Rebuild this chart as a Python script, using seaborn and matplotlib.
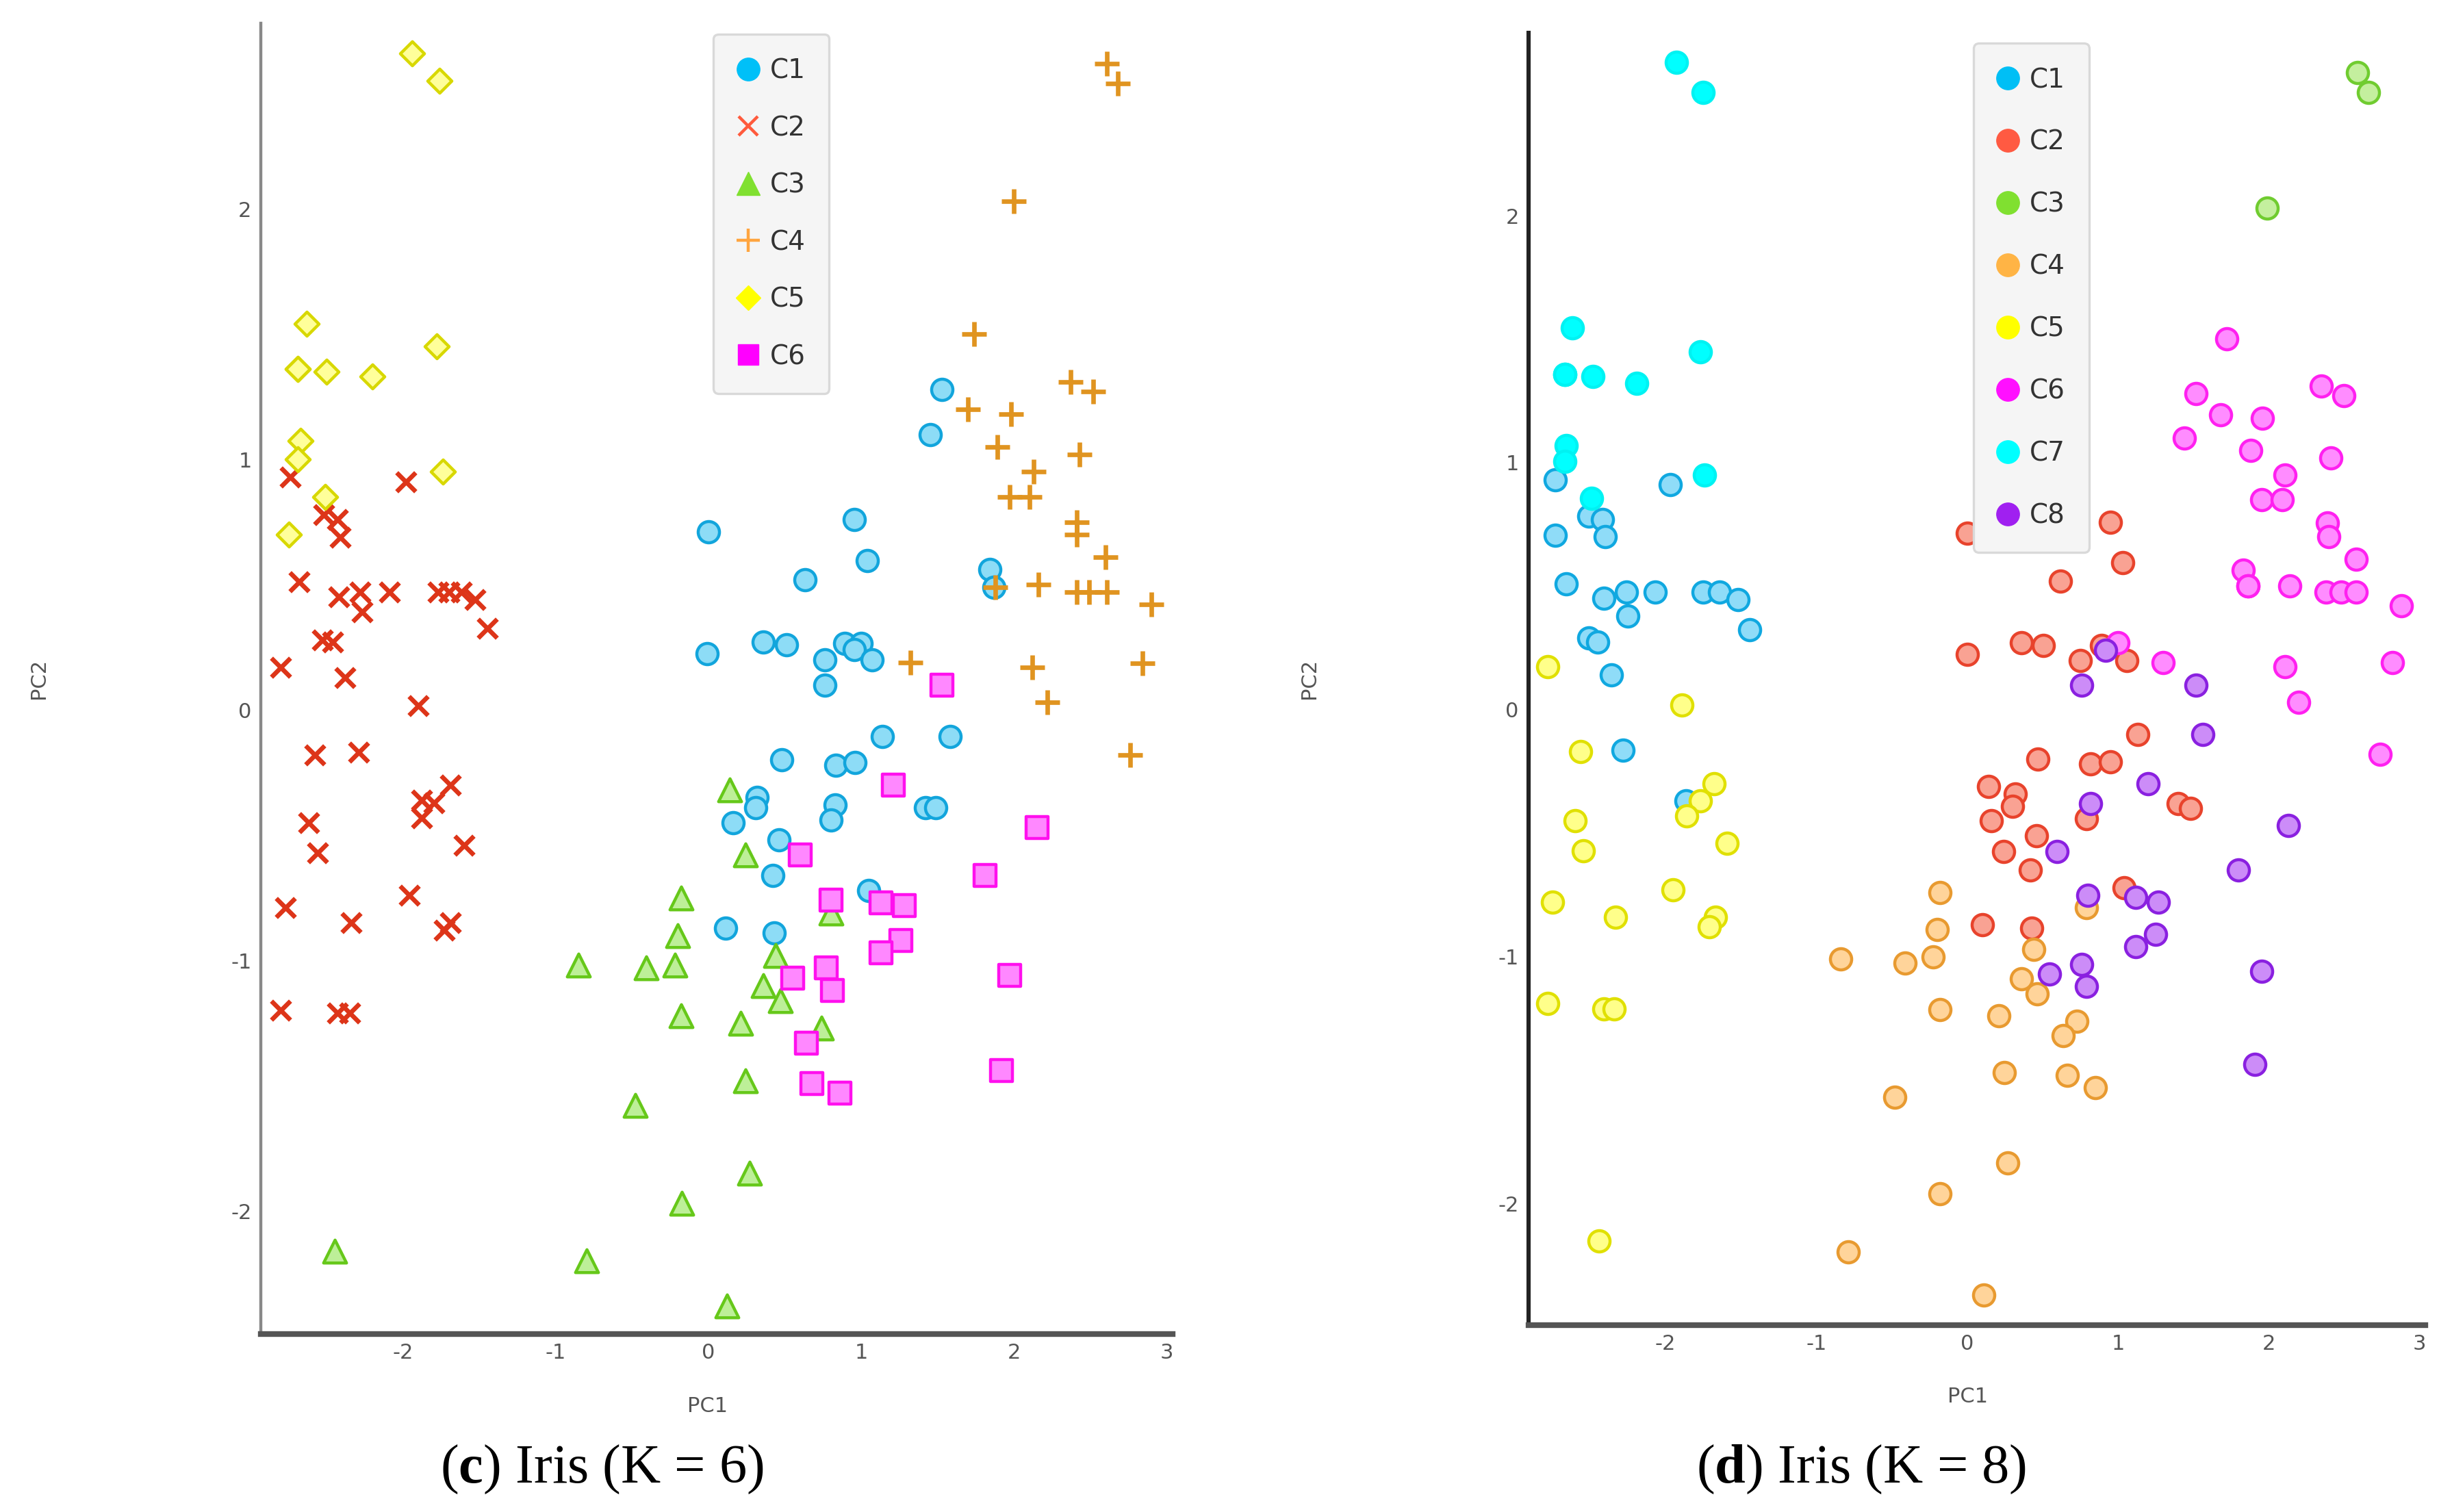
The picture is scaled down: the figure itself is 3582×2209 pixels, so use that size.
"""
Iris PCA scatter, K-means style clusters for K = 6 and K = 8.
Two panels side by side, with figure captions (c) and (d).
"""

import warnings
import pandas as pd
import matplotlib
matplotlib.use("Agg")
import matplotlib.pyplot as plt
from matplotlib.lines import Line2D
import seaborn as sns

warnings.filterwarnings("ignore")

# ---------------------------------------------------------------------------
# 1. DATA
# ---------------------------------------------------------------------------
CLUSTERS_K6 = ["C1", "C2", "C3", "C4", "C5", "C6"]
CLUSTERS_K8 = ["C1", "C2", "C3", "C4", "C5", "C6", "C7", "C8"]
X_TICKS = [-2, -1, 0, 1, 2, 3]
Y_TICKS = [-2, -1, 0, 1, 2]

# K = 6
k6_c1_pc1 = [1.53, 1.45, 0.00, 0.955, 1.04, 0.63, 1.84, 1.87, -0.01, 0.36, 0.51, 0.76,
             0.89, 1.00, 0.955, 1.07, 0.76, 1.14, 1.58, 0.48, 0.835, 0.96, 0.32, 0.31,
             0.16, 0.83, 0.80, 1.42, 1.49, 0.46, 0.42, 1.05, 0.11, 0.43]
k6_c1_pc2 = [1.28, 1.10, 0.71, 0.76, 0.595, 0.52, 0.56, 0.49, 0.225, 0.27, 0.26, 0.20,
             0.265, 0.265, 0.24, 0.20, 0.10, -0.105, -0.105, -0.20, -0.22, -0.21, -0.35, -0.39,
             -0.45, -0.38, -0.44, -0.39, -0.39, -0.52, -0.66, -0.72, -0.87, -0.89]

k6_c2_pc1 = [-2.74, -1.98, -2.52, -2.43, -2.41, -2.68, -2.42, -2.28, -2.27, -2.09, -1.77, -1.70,
             -1.62, -1.53, -1.45, -2.53, -2.46, -2.80, -2.38, -1.90, -2.58, -2.29, -1.69, -1.88,
             -1.80, -1.88, -2.62, -1.60, -2.56, -2.77, -1.96, -2.34, -1.69, -1.73, -2.80, -2.43,
             -2.35]
k6_c2_pc2 = [0.93, 0.91, 0.78, 0.76, 0.69, 0.51, 0.45, 0.47, 0.39, 0.47, 0.47, 0.47,
             0.47, 0.44, 0.325, 0.28, 0.27, 0.17, 0.13, 0.016, -0.18, -0.17, -0.30, -0.36,
             -0.37, -0.43, -0.45, -0.54, -0.57, -0.79, -0.74, -0.85, -0.85, -0.88, -1.20, -1.21,
             -1.21]

k6_c3_pc1 = [0.14, 0.24, -0.18, -0.20, -0.22, -0.85, -0.41, 0.44, 0.36, 0.47, -0.18, 0.21,
             0.24, -0.48, 0.27, -0.175, -2.45, -0.80, 0.12, 0.80, 0.74]
k6_c3_pc2 = [-0.32, -0.58, -0.75, -0.90, -1.02, -1.02, -1.03, -0.98, -1.10, -1.16, -1.22, -1.25,
             -1.48, -1.58, -1.85, -1.97, -2.16, -2.20, -2.38, -0.81, -1.27]

k6_c4_pc1 = [2.61, 2.68, 2.00, 1.74, 2.37, 2.52, 1.70, 1.98, 1.89, 2.43, 2.13, 1.97,
             2.10, 2.41, 2.41, 2.60, 2.16, 2.41, 2.49, 2.61, 2.90, 1.88, 1.32, 2.12,
             2.84, 2.22, 2.76]
k6_c4_pc2 = [2.58, 2.50, 2.03, 1.50, 1.31, 1.27, 1.20, 1.18, 1.05, 1.02, 0.95, 0.85,
             0.85, 0.75, 0.70, 0.61, 0.50, 0.47, 0.47, 0.47, 0.42, 0.49, 0.19, 0.17,
             0.185, 0.03, -0.18]

k6_c5_pc1 = [-1.94, -1.76, -2.63, -1.78, -2.69, -2.69, -2.50, -2.20, -2.67, -2.69, -1.74, -2.51,
             -2.75]
k6_c5_pc2 = [2.62, 2.51, 1.54, 1.45, 1.36, 1.36, 1.35, 1.33, 1.075, 1.00, 0.95, 0.85,
             0.70]

k6_c6_pc1 = [1.53, 1.21, 2.15, 0.60, 1.81, 0.80, 1.13, 1.28, 1.26, 1.13, 0.77, 0.55,
             0.81, 1.97, 0.64, 0.675, 0.86, 1.92]
k6_c6_pc2 = [0.10, -0.30, -0.47, -0.58, -0.66, -0.76, -0.77, -0.78, -0.92, -0.97, -1.03, -1.07,
             -1.12, -1.06, -1.33, -1.49, -1.53, -1.44]

# K = 8
k8_c1_pc1 = [-2.73, -1.97, -2.51, -2.42, -2.40, -2.73, -2.66, -2.41, -2.26, -2.25, -2.07, -1.75,
             -1.64, -1.52, -1.44, -2.51, -2.45, -2.36, -2.28, -1.865]
k8_c1_pc2 = [0.93, 0.91, 0.785, 0.77, 0.70, 0.705, 0.51, 0.45, 0.475, 0.38, 0.475, 0.475,
             0.475, 0.445, 0.325, 0.29, 0.275, 0.14, -0.165, -0.37]

k8_c2_pc1 = [0.0, 0.95, 1.03, 0.62, 0.0, 0.36, 0.505, 0.75, 0.89, 1.06, 1.13, 0.47,
             0.82, 0.95, 0.14, 0.32, 0.30, 0.16, 0.79, 1.40, 1.48, 0.46, 0.24, 0.42,
             1.04, 0.10, 0.43]
k8_c2_pc2 = [0.715, 0.76, 0.595, 0.52, 0.225, 0.27, 0.26, 0.20, 0.26, 0.20, -0.10, -0.20,
             -0.22, -0.21, -0.31, -0.34, -0.39, -0.45, -0.44, -0.38, -0.40, -0.51, -0.575, -0.65,
             -0.72, -0.87, -0.885]

k8_c3_pc1 = [2.59, 2.66, 1.99]
k8_c3_pc2 = [2.58, 2.50, 2.03]

k8_c4_pc1 = [-0.18, -0.20, -0.225, -0.84, -0.41, -0.18, -0.48, -0.18, -0.79, 0.11, 0.79, 0.44,
             0.36, 0.465, 0.21, 0.73, 0.635, 0.245, 0.665, 0.85, 0.27]
k8_c4_pc2 = [-0.74, -0.89, -1.00, -1.01, -1.025, -1.215, -1.57, -1.96, -2.195, -2.37, -0.80, -0.97,
             -1.09, -1.15, -1.24, -1.26, -1.32, -1.47, -1.48, -1.53, -1.835]

k8_c5_pc1 = [-2.78, -1.89, -2.565, -1.68, -1.77, -1.86, -2.60, -2.545, -1.59, -2.75, -1.95, -2.33,
             -1.67, -1.71, -2.78, -2.41, -2.34, -2.44]
k8_c5_pc2 = [0.175, 0.02, -0.17, -0.30, -0.37, -0.43, -0.45, -0.57, -0.54, -0.78, -0.73, -0.84,
             -0.84, -0.88, -1.19, -1.21, -1.21, -2.15]

k8_c6_pc1 = [1.72, 1.52, 2.35, 2.50, 1.68, 1.96, 1.44, 1.88, 2.41, 2.11, 1.955, 2.09,
             2.39, 2.40, 2.58, 1.83, 1.865, 1.865, 2.14, 2.38, 2.48, 2.58, 2.88, 1.30,
             2.11, 2.82, 1.00, 2.20, 2.74]
k8_c6_pc2 = [1.50, 1.28, 1.31, 1.27, 1.195, 1.18, 1.10, 1.05, 1.02, 0.95, 0.85, 0.85,
             0.755, 0.70, 0.61, 0.565, 0.50, 0.50, 0.50, 0.475, 0.475, 0.475, 0.42, 0.19,
             0.175, 0.19, 0.27, 0.03, -0.18]

k8_c7_pc1 = [-1.93, -1.75, -2.62, -1.77, -2.67, -2.67, -2.48, -2.19, -2.66, -2.67, -1.74, -2.49]
k8_c7_pc2 = [2.62, 2.50, 1.545, 1.45, 1.356, 1.356, 1.35, 1.32, 1.07, 1.005, 0.95, 0.855]

k8_c8_pc1 = [0.92, 0.76, 1.52, 1.565, 1.20, 0.82, 2.13, 0.595, 1.80, 0.80, 1.12, 1.27,
             1.25, 1.12, 0.76, 0.545, 0.79, 1.955, 1.91]
k8_c8_pc2 = [0.24, 0.10, 0.10, -0.10, -0.30, -0.38, -0.47, -0.575, -0.65, -0.75, -0.76, -0.78,
             -0.91, -0.96, -1.03, -1.07, -1.12, -1.06, -1.435]


def build_frame(names, pc1_lists, pc2_lists):
    parts = []
    for name, xs, ys in zip(names, pc1_lists, pc2_lists):
        parts.append(pd.DataFrame({"PC1": xs, "PC2": ys, "cluster": name}))
    return pd.concat(parts, ignore_index=True)


df_k6 = build_frame(CLUSTERS_K6,
                    [k6_c1_pc1, k6_c2_pc1, k6_c3_pc1, k6_c4_pc1, k6_c5_pc1, k6_c6_pc1],
                    [k6_c1_pc2, k6_c2_pc2, k6_c3_pc2, k6_c4_pc2, k6_c5_pc2, k6_c6_pc2])
df_k8 = build_frame(CLUSTERS_K8,
                    [k8_c1_pc1, k8_c2_pc1, k8_c3_pc1, k8_c4_pc1, k8_c5_pc1, k8_c6_pc1,
                     k8_c7_pc1, k8_c8_pc1],
                    [k8_c1_pc2, k8_c2_pc2, k8_c3_pc2, k8_c4_pc2, k8_c5_pc2, k8_c6_pc2,
                     k8_c7_pc2, k8_c8_pc2])

# ---------------------------------------------------------------------------
# 2. STYLES  (marker, size, fill, edge, legend colour)
# ---------------------------------------------------------------------------
STYLE_K6 = [
    ("o", 125, "#8ddcf6", "#12a5dc", "#00c0f8"),
    ("x", 100, "#dd3519", "#dd3519", "#ff5a3c"),
    ("^", 145, "#bdef98", "#66c81a", "#80e030"),
    ("+", 160, "#e09420", "#e09420", "#ffa540"),
    ("D", 80, "#ffff9a", "#d8d800", "#ffff00"),
    ("s", 130, "#ff88ff", "#ff10ee", "#ff00ff"),
]
STYLE_K8 = [
    ("o", 125, "#8fdcf8", "#10a8e0", "#00bff5"),
    ("o", 125, "#f9a293", "#e8432c", "#ff5a42"),
    ("o", 125, "#c4ef9e", "#70cc30", "#80e030"),
    ("o", 125, "#ffd49a", "#e89a30", "#ffb445"),
    ("o", 125, "#ffff8a", "#e0e000", "#ffff00"),
    ("o", 125, "#ff8cff", "#ff20f0", "#ff10ff"),
    ("o", 125, "#00ffff", "#00f2f2", "#00ffff"),
    ("o", 125, "#cc8cf8", "#8a20e0", "#a020f0"),
]

sns.set_theme(style="white")
plt.rcParams["font.family"] = ["DejaVu Sans"]
plt.rcParams["axes.unicode_minus"] = False
plt.rcParams["mathtext.fontset"] = "custom"
plt.rcParams["mathtext.rm"] = "Liberation Serif"
plt.rcParams["mathtext.bf"] = "Liberation Serif:bold"

fig = plt.figure(figsize=(17.91, 11.045), dpi=200)
ax_c = fig.add_axes([0.1065, 0.1179, 0.3718, 0.8666])
ax_d = fig.add_axes([0.6233, 0.1238, 0.3659, 0.8545])


def draw_panel(ax, frame, names, styles, xlim, left_spine, spacing):
    for name, (marker, size, fill, edge, _) in zip(names, styles):
        sub = frame[frame["cluster"] == name]
        unfilled = marker in ("x", "+")
        sns.scatterplot(data=sub, x="PC1", y="PC2", ax=ax, marker=marker, s=size,
                        color=fill, edgecolor=edge,
                        linewidth=2.4 if unfilled else 1.6,
                        alpha=1.0, legend=False, zorder=3)

    ax.set_xlim(*xlim)
    ax.set_ylim(-2.49, 2.74)
    ax.set_xticks(X_TICKS)
    ax.set_yticks(Y_TICKS)
    ax.tick_params(direction="in", length=6, width=1.1, color="#333333",
                   labelsize=11, labelcolor="#555555", pad=5)
    sns.despine(ax=ax)
    ax.spines["left"].set_color(left_spine[0])
    ax.spines["left"].set_linewidth(left_spine[1])
    ax.spines["bottom"].set_color("#555555")
    ax.spines["bottom"].set_linewidth(3.0)

    ax.set_xlabel("PC1", fontsize=11, color="#555555")
    ax.set_ylabel("PC2", fontsize=11, color="#555555")
    ax.xaxis.set_label_coords(0.49, -0.048)
    ax.yaxis.set_label_coords(-0.233, 0.5)

    handles = []
    for name, (marker, _, _, _, lcol) in zip(names, styles):
        if marker in ("x", "+"):
            handles.append(Line2D([], [], linestyle="none", marker=marker,
                                  markersize=10 if marker == "x" else 12,
                                  markeredgewidth=1.6, color=lcol))
        else:
            msize = {"o": 12, "^": 12, "D": 9, "s": 11}[marker]
            handles.append(Line2D([], [], linestyle="none", marker=marker,
                                  markersize=msize, markerfacecolor=lcol,
                                  markeredgecolor=lcol, markeredgewidth=0.5))
    leg = ax.legend(handles, names, loc="upper left", bbox_to_anchor=(0.496, 0.992),
                    borderaxespad=0, fontsize=14, labelcolor="#333333",
                    frameon=True, fancybox=True, framealpha=1.0,
                    borderpad=0.9, labelspacing=spacing, handlelength=0.8,
                    handletextpad=0.42)
    leg.get_frame().set_facecolor("#f5f5f5")
    leg.get_frame().set_edgecolor("#d9d9d9")
    leg.get_frame().set_linewidth(1.2)


draw_panel(ax_c, df_k6, CLUSTERS_K6, STYLE_K6, (-2.93, 3.04), ("#888888", 1.6), 1.17)
draw_panel(ax_d, df_k8, CLUSTERS_K8, STYLE_K8, (-2.91, 3.04), ("#222222", 2.2), 1.36)

# ---------------------------------------------------------------------------
# 3. CAPTIONS
# ---------------------------------------------------------------------------
fig.text(0.2455, 0.028, r"($\mathbf{c}$) Iris (K = 6)", fontsize=29,
         family="Liberation Serif", ha="center", va="center", color="black")
fig.text(0.759, 0.028, r"($\mathbf{d}$) Iris (K = 8)", fontsize=29,
         family="Liberation Serif", ha="center", va="center", color="black")

fig.savefig("out.png", dpi=200)
plt.close(fig)
